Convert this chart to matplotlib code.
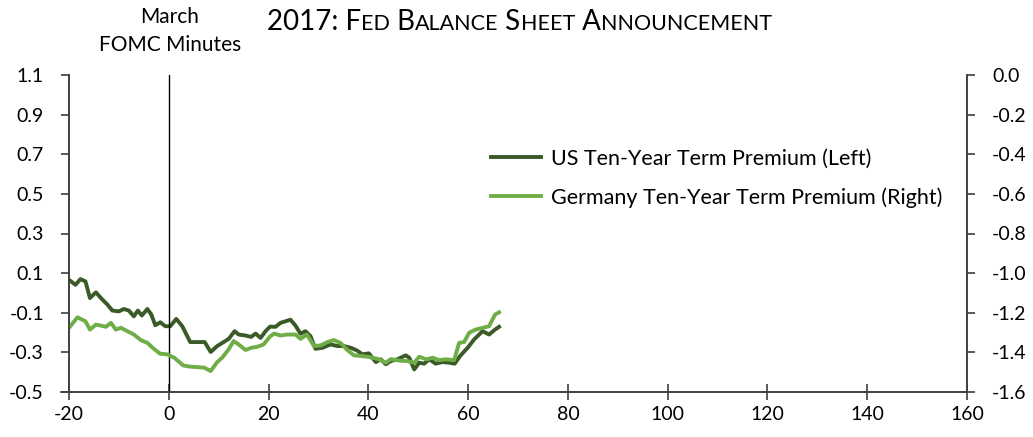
import matplotlib
matplotlib.use("Agg")
import matplotlib.pyplot as plt
import numpy as np

plt.rcParams['font.family'] = ['Lato', 'DejaVu Sans']

# US ten-year term premium (left axis), days relative to March FOMC minutes
us_days = [-20, -18.7, -17.7, -16.7, -15.8, -14.6, -13.6, -12.3, -11.3, -10, -9, -8, -7, -6.2,
           -5.4, -4.3, -3.5, -2.7, -1.7, -0.7, 0.3, 1.5, 2.7, 4.3, 5.7, 7.2, 8.4, 9.7, 11, 12,
           13.2, 14, 15.4, 16.5, 17.4, 18.4, 19.4, 20.3, 21.4, 22.4, 24.4, 25.4, 26.4, 27.4,
           28.4, 29.4, 30.8, 32.4, 33.8, 35.1, 36.5, 37.7, 38.8, 40.1, 41.5, 42.5, 43.5, 44.5,
           45.8, 47.5, 48.2, 49.2, 50.2, 51.2, 52.2, 53.5, 54.8, 56.2, 57.3, 58.5, 59.9, 61.2,
           62.9, 64.2, 65.4, 66.2]
us_tp = [0.066, 0.041, 0.07, 0.058, -0.026, 0.003, -0.026, -0.059, -0.089, -0.093, -0.081,
         -0.089, -0.118, -0.089, -0.114, -0.081, -0.109, -0.163, -0.148, -0.168, -0.168, -0.131,
         -0.168, -0.248, -0.248, -0.248, -0.298, -0.268, -0.248, -0.232, -0.193, -0.21, -0.215,
         -0.222, -0.205, -0.227, -0.193, -0.17, -0.171, -0.151, -0.135, -0.165, -0.206, -0.193,
         -0.218, -0.282, -0.277, -0.26, -0.268, -0.268, -0.277, -0.29, -0.31, -0.305, -0.349,
         -0.335, -0.36, -0.344, -0.335, -0.315, -0.327, -0.386, -0.352, -0.357, -0.335, -0.357,
         -0.349, -0.352, -0.357, -0.315, -0.277, -0.235, -0.193, -0.21, -0.185, -0.171]

# Germany ten-year term premium (right axis)
de_days = [-20, -18.3, -16.7, -15.8, -14.6, -13.6, -12.6, -11.6, -10.6, -9.6, -8.3, -7, -5.6,
           -4.3, -3, -1.7, -0.3, 1.1, 2.9, 4.3, 7.1, 8.4, 9.7, 10.7, 12, 13, 14, 15.4, 16.5,
           17.7, 19, 20.3, 21.1, 22.4, 23.7, 25.4, 26.4, 27.7, 29.1, 30.4, 31.8, 33.1, 34.4,
           35.8, 37.1, 38.5, 40.1, 42, 43.5, 44.5, 46.4, 47.8, 49.2, 50.2, 51.6, 52.9, 54.2,
           55.5, 57.2, 58.2, 59.2, 60.2, 61.5, 62.9, 64.2, 65.4, 66.2]
de_tp = [-1.276, -1.223, -1.243, -1.285, -1.26, -1.265, -1.271, -1.251, -1.285, -1.276, -1.293,
         -1.31, -1.338, -1.352, -1.382, -1.407, -1.41, -1.427, -1.466, -1.472, -1.477, -1.494,
         -1.449, -1.427, -1.385, -1.343, -1.36, -1.388, -1.377, -1.372, -1.36, -1.32, -1.305,
         -1.315, -1.31, -1.31, -1.332, -1.31, -1.368, -1.365, -1.348, -1.338, -1.352, -1.388,
         -1.415, -1.418, -1.423, -1.434, -1.452, -1.434, -1.442, -1.444, -1.452, -1.422, -1.435,
         -1.427, -1.439, -1.435, -1.439, -1.352, -1.348, -1.301, -1.285, -1.276, -1.268,
         -1.209, -1.198]

left_ticks = [-0.5, -0.3, -0.1, 0.1, 0.3, 0.5, 0.7, 0.9, 1.1]
right_ticks = [-1.6, -1.4, -1.2, -1.0, -0.8, -0.6, -0.4, -0.2, 0.0]
x_ticks = [-20, 0, 20, 40, 60, 80, 100, 120, 140, 160]

dark = '#3a5a28'
light = '#6fae47'
axc = '#404040'

W, H = 1033, 437
fig = plt.figure(figsize=(W / 100, H / 100), dpi=100)
ax = fig.add_axes([69 / W, 45 / H, 898 / W, 317 / H])
ax2 = ax.twinx()

l1, = ax.plot(us_days, us_tp, color=dark, lw=2.8, label='US Ten-Year Term Premium (Left)')
l2, = ax2.plot(de_days, de_tp, color=light, lw=2.8, label='Germany Ten-Year Term Premium (Right)')
ax.axvline(0, color='black', lw=1)

ax.set_xlim(-20, 160)
ax.set_ylim(-0.5, 1.1)
ax2.set_ylim(-1.6, 0.0)
ax.set_xticks(x_ticks)
ax.set_xticklabels([str(t) for t in x_ticks])
ax.set_yticks(left_ticks)
ax.set_yticklabels([f'{t:.1f}' for t in left_ticks])
ax2.set_yticks(right_ticks)
ax2.set_yticklabels([f'{t:.1f}' for t in right_ticks])

for a in (ax, ax2):
    a.spines['top'].set_visible(False)
    for s in ('left', 'right', 'bottom'):
        a.spines[s].set_color(axc)
        a.spines[s].set_linewidth(1.2)
    a.tick_params(axis='y', direction='out', length=6, width=1.2, color=axc,
                  labelsize=14, labelcolor='black', pad=12)
ax.tick_params(axis='x', direction='inout', length=12, width=1.2, color=axc,
               labelsize=14, labelcolor='black', pad=4)
ax.spines['bottom'].set_bounds(-21.6, 160)

ax.legend([l1, l2], [l1.get_label(), l2.get_label()], loc='upper left',
          bbox_to_anchor=(491 / W, 1 - 149 / H), bbox_transform=fig.transFigure,
          frameon=False, fontsize=15.5, handlelength=2.3, handletextpad=0.5,
          labelspacing=0.85, borderaxespad=0, borderpad=0)

fig.text(170 / W, 1 - 17 / H, 'March', ha='center', va='center', fontsize=15)
fig.text(170 / W, 1 - 45 / H, 'FOMC Minutes', ha='center', va='center', fontsize=15)

# small-caps title, drawn piece by piece
parts = [('2017: F', 20), ('ED', 15.5), (' B', 20), ('ALANCE', 15.5), (' S', 20),
         ('HEET', 15.5), (' A', 20), ('NNOUNCEMENT', 15.5)]
renderer = fig.canvas.get_renderer()
xpos = 267
for txt, size in parts:
    t = fig.text(xpos / W, 1 - 30 / H, txt, fontsize=size, va='baseline', ha='left')
    xpos += t.get_window_extent(renderer).width

fig.savefig('out.png', dpi=100)
